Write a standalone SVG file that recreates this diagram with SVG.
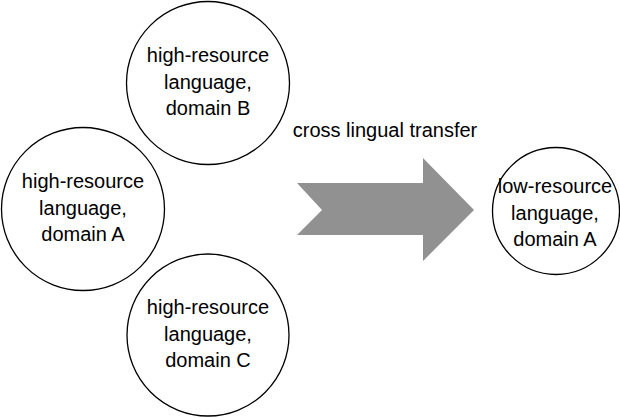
<svg xmlns="http://www.w3.org/2000/svg" width="620" height="418" viewBox="0 0 620 418">
<style>
.node{fill:#fff;stroke:#000;stroke-width:1.3}
.t{font-family:"Liberation Sans",Arial,sans-serif;font-size:20px;fill:#000;text-anchor:middle}
</style>
<rect width="620" height="418" fill="#fff"/>
<g id="connectors">
<polygon points="297,183 423,183 423,158 474,210 423,261 423,235 297,235 322,210" fill="#919191"/>
<text class="t" x="385" y="137">cross lingual transfer</text>
</g>
<g id="nodeB">
<circle class="node" cx="208" cy="83" r="81.5"/>
<text class="t" x="208" y="62">high-resource</text>
<text class="t" x="208" y="89">language,</text>
<text class="t" x="208" y="115">domain B</text>
</g>
<g id="nodeA">
<circle class="node" cx="83" cy="209" r="81.5"/>
<text class="t" x="83" y="188">high-resource</text>
<text class="t" x="83" y="215">language,</text>
<text class="t" x="83" y="241">domain A</text>
</g>
<g id="nodeC">
<circle class="node" cx="208" cy="335" r="81"/>
<text class="t" x="208" y="314">high-resource</text>
<text class="t" x="208" y="341">language,</text>
<text class="t" x="208" y="367">domain C</text>
</g>
<g id="nodeLow">
<circle class="node" cx="556" cy="211" r="63.5"/>
<text class="t" x="555" y="193">low-resource</text>
<text class="t" x="555" y="220">language,</text>
<text class="t" x="555" y="246">domain A</text>
</g>
</svg>
